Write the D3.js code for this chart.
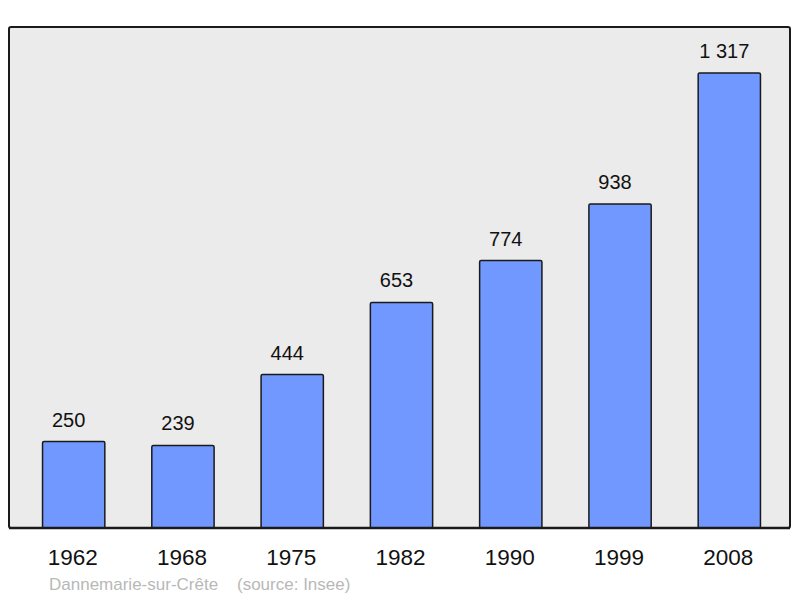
<!DOCTYPE html>
<html>
<head>
<meta charset="utf-8">
<script src="https://cdn.jsdelivr.net/npm/d3@7"></script>
<style>
  body { margin: 0; background: #fff; }
  text { font-family: "Liberation Sans", Arial, sans-serif; }
</style>
</head>
<body>
<svg id="chart"></svg>
<script>
const years = ["1962", "1968", "1975", "1982", "1990", "1999", "2008"];
const population = [250, 239, 444, 653, 774, 938, 1317];
const valueLabels = ["250", "239", "444", "653", "774", "938", "1 317"];

const width = 800, height = 598;
const panel = {left: 9, top: 27, right: 790, bottom: 528};

const svg = d3.select("#chart")
  .attr("width", width)
  .attr("height", height);

// background panel
svg.append("rect")
  .attr("x", panel.left)
  .attr("y", panel.top)
  .attr("width", panel.right - panel.left)
  .attr("height", panel.bottom - panel.top)
  .attr("rx", 2)
  .attr("fill", "#ebebeb")
  .attr("stroke", "#1a1a1a")
  .attr("stroke-width", 2);

const xScale = d3.scaleBand()
  .domain(years)
  .range([18.5, 784.5])
  .paddingInner(0.43)
  .paddingOuter(0.22);

const yScale = d3.scaleLinear()
  .domain([0, 1450])
  .range([panel.bottom, panel.top]);

svg.selectAll("rect.bar")
  .data(population)
  .join("rect")
  .attr("class", "bar")
  .attr("x", (d, i) => xScale(years[i]))
  .attr("y", d => yScale(d))
  .attr("width", xScale.bandwidth())
  .attr("height", d => yScale(0) - yScale(d))
  .attr("rx", 1.5)
  .attr("fill", "#7098ff")
  .attr("stroke", "#1a1a1a")
  .attr("stroke-width", 1.5);

// redraw bottom edge over bars
svg.append("line")
  .attr("x1", panel.left)
  .attr("x2", panel.right)
  .attr("y1", panel.bottom)
  .attr("y2", panel.bottom)
  .attr("stroke", "#1a1a1a")
  .attr("stroke-width", 2.5);

svg.selectAll("text.value")
  .data(population)
  .join("text")
  .attr("class", "value")
  .attr("x", (d, i) => xScale(years[i]) + xScale.bandwidth() / 2 - 5)
  .attr("y", d => yScale(d) - 15)
  .attr("text-anchor", "middle")
  .attr("font-size", 20)
  .attr("fill", "#111")
  .text((d, i) => valueLabels[i]);

const xAxis = svg.append("g")
  .attr("transform", `translate(0,${panel.bottom})`)
  .call(d3.axisBottom(xScale).tickSize(0).tickPadding(0));
xAxis.select(".domain").remove();
xAxis.selectAll("text")
  .attr("dy", null)
  .attr("y", 37)
  .attr("dx", -1)
  .attr("font-size", 22.5)
  .attr("font-family", "Liberation Sans, Arial, sans-serif")
  .attr("fill", "#111");

svg.append("text")
  .attr("x", 49)
  .attr("y", 590)
  .attr("font-size", 17)
  .attr("fill", "#b8b8b8")
  .attr("xml:space", "preserve")
  .text("Dannemarie-sur-Crête    (source: Insee)");
</script>
</body>
</html>
